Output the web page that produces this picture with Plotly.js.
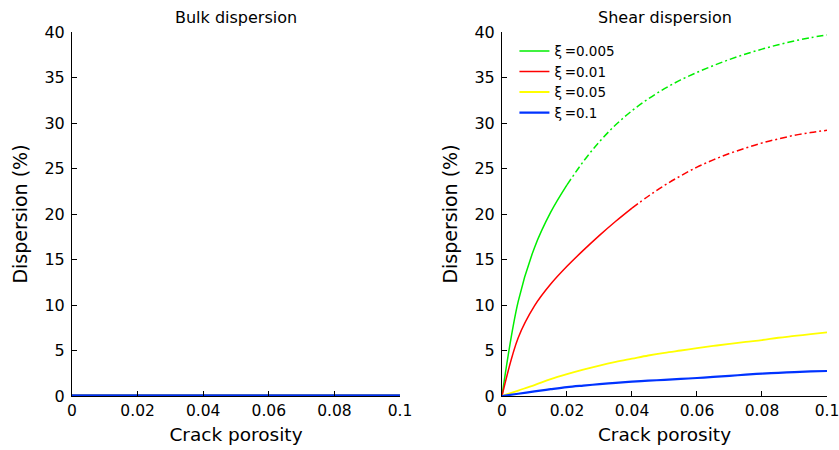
<!DOCTYPE html>
<html><head><meta charset="utf-8">
<script src="https://cdn.plot.ly/plotly-3.0.1.min.js"></script>
<style>body{margin:0;background:#fff}#chart{width:839px;height:450px}</style>
</head><body><div id="chart"></div>
<script>
const porosity = [0, 0.005, 0.01, 0.015, 0.02, 0.025, 0.03, 0.035, 0.04, 0.045, 0.05, 0.055, 0.06, 0.065, 0.07, 0.075, 0.08, 0.085, 0.09, 0.095, 0.1];
const xiLabels = ['ξ\u2009=0.005', 'ξ\u2009=0.01', 'ξ\u2009=0.05', 'ξ\u2009=0.1'];
const colors = ['#00ee00', '#ff0000', '#ffff00', '#0033ff'];
// Shear dispersion (%)
const shear005 = [0, 10.4, 16.3, 20.2, 23.2, 25.75, 27.95, 29.8, 31.35, 32.65, 33.77, 34.74, 35.56, 36.3, 36.98, 37.58, 38.12, 38.6, 39.02, 39.38, 39.68];
const shear01  = [0, 6.4, 9.9, 12.3, 14.25, 16.0, 17.65, 19.2, 20.65, 21.95, 23.15, 24.2, 25.15, 25.95, 26.65, 27.25, 27.8, 28.25, 28.65, 28.95, 29.2];
const shear05  = [0.0, 0.6, 1.2, 1.85, 2.4, 2.9, 3.35, 3.75, 4.1, 4.45, 4.75, 5.0, 5.25, 5.5, 5.72, 5.95, 6.15, 6.4, 6.6, 6.8, 7.0];
const shear1   = [0.0, 0.25, 0.5, 0.75, 0.98, 1.15, 1.3, 1.44, 1.57, 1.68, 1.78, 1.88, 1.98, 2.1, 2.22, 2.34, 2.46, 2.55, 2.63, 2.7, 2.75];
// Bulk dispersion (%)
const bulk005 = [0.06, 0.06, 0.06, 0.06, 0.06, 0.06, 0.06, 0.06, 0.06, 0.06, 0.06, 0.06, 0.06, 0.06, 0.06, 0.06, 0.06, 0.06, 0.06, 0.06, 0.06];
const bulk01  = [0.08, 0.08, 0.08, 0.08, 0.08, 0.08, 0.08, 0.08, 0.08, 0.08, 0.08, 0.08, 0.08, 0.08, 0.08, 0.08, 0.08, 0.08, 0.08, 0.08, 0.08];
const bulk05  = [0.1, 0.1, 0.1, 0.1, 0.1, 0.1, 0.1, 0.1, 0.1, 0.1, 0.1, 0.1, 0.1, 0.1, 0.1, 0.1, 0.1, 0.1, 0.1, 0.1, 0.1];
const bulk1   = [0.05, 0.05, 0.05, 0.05, 0.05, 0.05, 0.05, 0.05, 0.05, 0.05, 0.05, 0.05, 0.05, 0.05, 0.05, 0.05, 0.05, 0.05, 0.05, 0.05, 0.05];
// porosity where curve style changes from solid to dash-dot (null = solid throughout)
const solidUntil = [0.02, 0.04, null, null];

const shear = [shear005, shear01, shear05, shear1];
const bulk = [bulk005, bulk01, bulk05, bulk1];
const widths = [1.5, 1.5, 1.8, 2.2];
const traces = [];
for (let i = 0; i < 4; i++) {
  traces.push({x: porosity, y: bulk[i], xaxis: 'x', yaxis: 'y', mode: 'lines', line: {color: colors[i], width: i === 3 ? 2.6 : 1.5, shape: 'spline'}, showlegend: false, hoverinfo: 'skip', cliponaxis: false});
}
for (let i = 0; i < 4; i++) {
  const s = solidUntil[i];
  const idx = s === null ? porosity.length - 1 : porosity.indexOf(s);
  traces.push({x: porosity.slice(0, idx + 1), y: shear[i].slice(0, idx + 1), xaxis: 'x2', yaxis: 'y2', mode: 'lines', name: xiLabels[i], line: {color: colors[i], width: widths[i], shape: 'spline', smoothing: 1}});
  if (s !== null) {
    traces.push({x: porosity.slice(idx), y: shear[i].slice(idx), xaxis: 'x2', yaxis: 'y2', mode: 'lines', showlegend: false, line: {color: colors[i], width: widths[i], shape: 'spline', smoothing: 1, dash: '7px,3px,2px,3px'}});
  }
}
const ff = 'DejaVu Sans, sans-serif';
const xax = (dom, anchor) => ({domain: dom, anchor: anchor, range: [0, 0.1], tickvals: [0, 0.02, 0.04, 0.06, 0.08, 0.1], ticktext: ['0', '0.02', '0.04', '0.06', '0.08', '0.1'], ticks: 'inside', ticklen: 5, tickcolor: '#000', showline: true, linecolor: '#000', linewidth: 1, showgrid: false, zeroline: false, ticklabeloverflow: 'allow', tickfont: {family: ff, size: 15.5, color: '#000'}, title: {text: 'Crack porosity', font: {family: ff, size: 18.5, color: '#000'}, standoff: 9}});
const yax = (anchor) => ({domain: [0, 1], anchor: anchor, range: [0, 40], dtick: 5, ticks: 'inside', ticklen: 5, tickcolor: '#000', showline: true, linecolor: '#000', linewidth: 1, showgrid: false, zeroline: false, ticklabelstandoff: 3, tickfont: {family: ff, size: 16, color: '#000'}, title: {text: 'Dispersion (%)', font: {family: ff, size: 19, color: '#000'}, standoff: 11}});
const layout = {
  width: 839, height: 450,
  margin: {l: 72, r: 12, t: 32, b: 54},
  paper_bgcolor: '#fff', plot_bgcolor: '#fff',
  font: {family: ff, color: '#000'},
  xaxis: xax([0, 0.4344], 'y'),
  yaxis: yax('x'),
  xaxis2: xax([0.5695, 1], 'y2'),
  yaxis2: yax('x2'),
  showlegend: true,
  legend: {x: 0.586, y: 0.99, xanchor: 'left', yanchor: 'top', bgcolor: 'rgba(0,0,0,0)', font: {family: ff, size: 13.5, color: '#000'}, tracegroupgap: 0, itemwidth: 30},
  annotations: [
    {text: 'Bulk dispersion', xref: 'paper', yref: 'paper', x: 0.2172, xanchor: 'center', y: 1, yanchor: 'bottom', yshift: 3, showarrow: false, font: {family: ff, size: 16, color: '#000'}},
    {text: 'Shear dispersion', xref: 'paper', yref: 'paper', x: 0.7848, xanchor: 'center', y: 1, yanchor: 'bottom', yshift: 3, showarrow: false, font: {family: ff, size: 16, color: '#000'}}
  ]
};
Plotly.newPlot('chart', traces, layout, {displayModeBar: false});
</script></body></html>
